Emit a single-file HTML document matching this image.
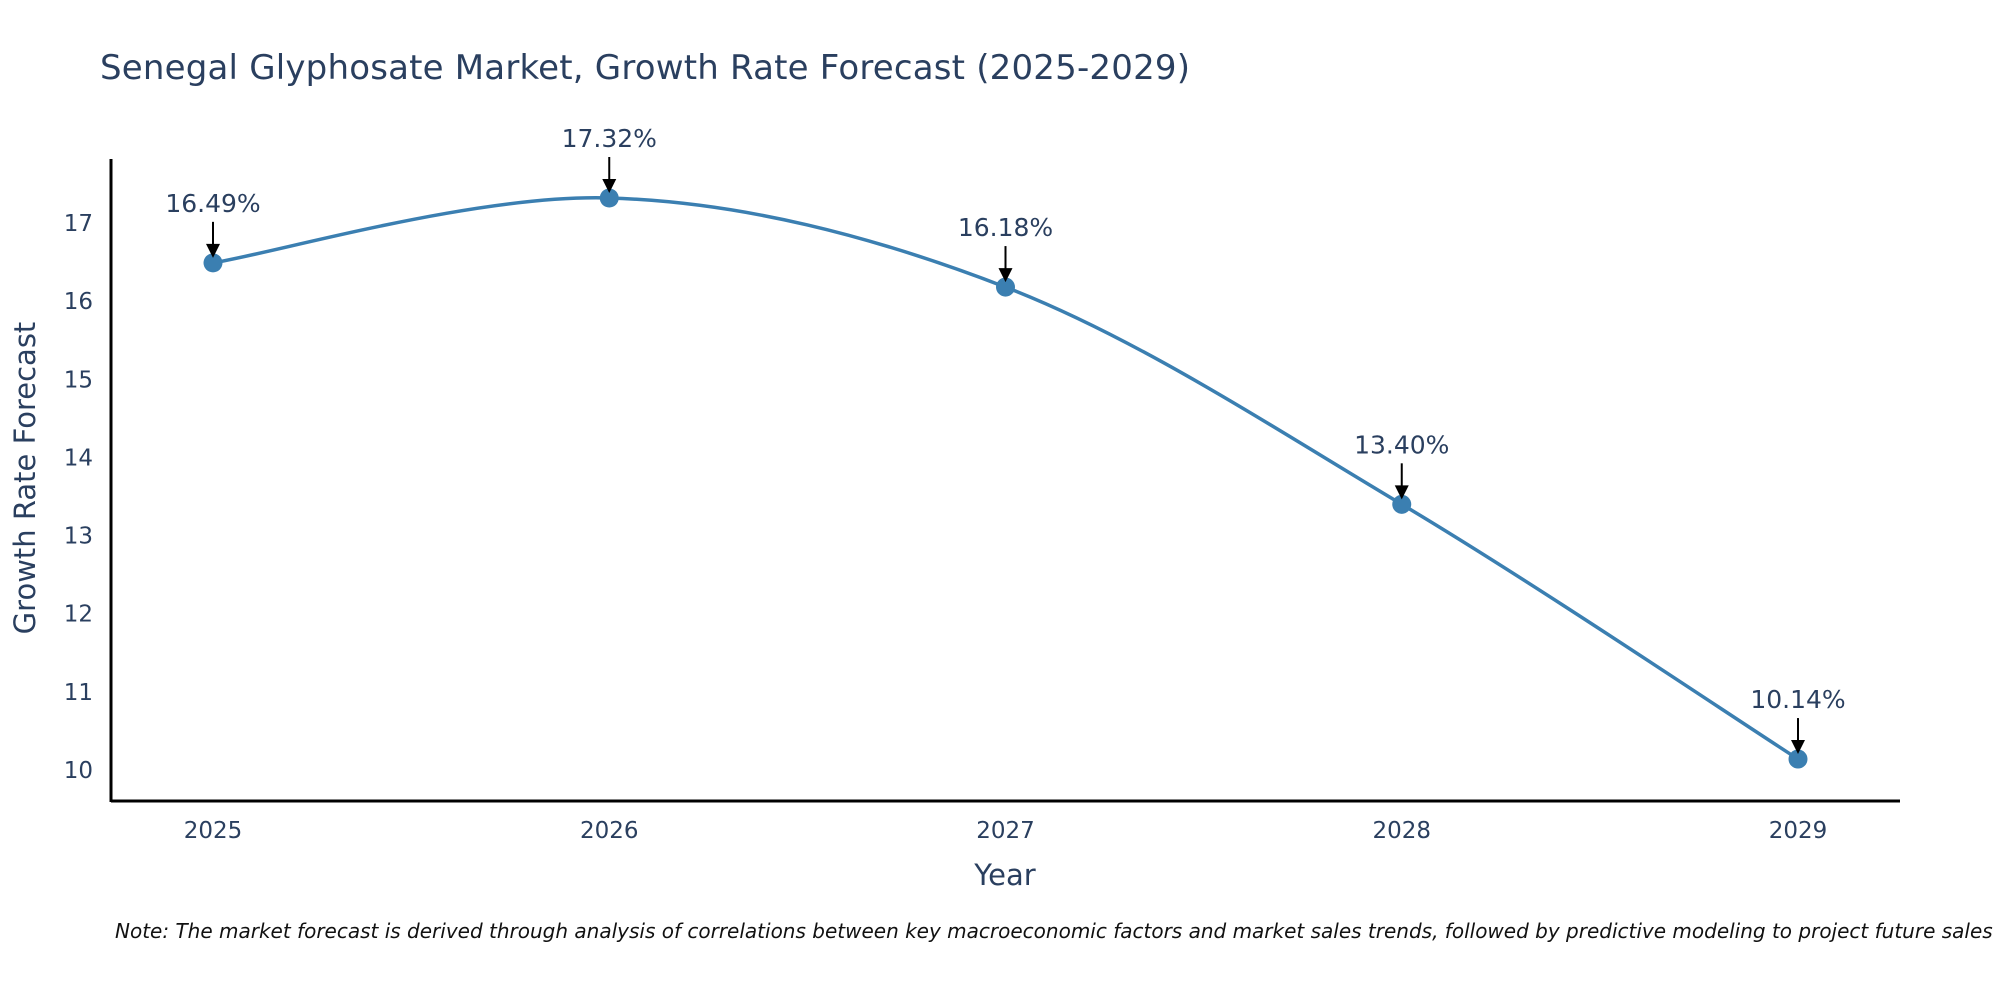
<!DOCTYPE html>
<html><head><meta charset="utf-8"><style>
html,body{margin:0;padding:0;background:#fff;}
svg{display:block;font-family:"DejaVu Sans","Liberation Sans",sans-serif;}
</style></head><body>
<svg id="chart" width="2000" height="1000" viewBox="0 0 2000 1000">
<text x="100" y="79" font-size="34" fill="#2a3f5f" textLength="1090">Senegal Glyphosate Market, Growth Rate Forecast (2025-2029)</text>
<g id="plot"></g>
<text x="1005" y="885" font-size="29" fill="#2a3f5f" text-anchor="middle">Year</text>
<text transform="translate(35,478) rotate(-90)" font-size="29" fill="#2a3f5f" text-anchor="middle">Growth Rate Forecast</text>
<text x="115" y="938" font-size="20" font-style="italic" fill="#111">Note: The market forecast is derived through analysis of correlations between key macroeconomic factors and market sales trends, followed by predictive modeling to project future sales</text>
</svg>
<script>
const years = ['2025','2026','2027','2028','2029'];
const values = [16.49, 17.32, 16.18, 13.40, 10.14];
const labels = ['16.49%','17.32%','16.18%','13.40%','10.14%'];
const yTicks = [10,11,12,13,14,15,16,17];

const NS='http://www.w3.org/2000/svg';
const g=document.getElementById('plot');
const x0=213, x1=1798;
const xs=i=>x0+(x1-x0)*i/(years.length-1);
const ys=v=>770-(v-10)*(770-223)/7;
function mk(t,a,p){const e=document.createElementNS(NS,t);for(const k in a)e.setAttribute(k,a[k]);(p||g).appendChild(e);return e;}

let ax=mk('line',{x1:111,y1:801,x2:1900,y2:801,stroke:'#000','stroke-width':3});


let ay=mk('line',{x1:111,y1:159,x2:111,y2:802,stroke:'#000','stroke-width':3});



yTicks.forEach(v=>{
  const t=mk('text',{x:93,y:ys(v)+8,'font-size':23,fill:'#2a3f5f','text-anchor':'end'});
  t.textContent=v;
  
  
});
years.forEach((yr,i)=>{
  const t=mk('text',{x:xs(i),y:838,'font-size':23,fill:'#2a3f5f','text-anchor':'middle'});
  t.textContent=yr;
  
  
});

const pts=values.map((v,i)=>[xs(i),ys(v)]);
let d='M'+pts[0][0]+','+pts[0][1];
for(let i=0;i<pts.length-1;i++){
  const p0=pts[Math.max(0,i-1)],p1=pts[i],p2=pts[i+1],p3=pts[Math.min(pts.length-1,i+2)];
  const s=1/6;
  d+=' C'+(p1[0]+(p2[0]-p0[0])*s)+','+(p1[1]+(p2[1]-p0[1])*s)+' '+(p2[0]-(p3[0]-p1[0])*s)+','+(p2[1]-(p3[1]-p1[1])*s)+' '+p2[0]+','+p2[1];
}
const line=mk('path',{d:d,fill:'none',stroke:'#3b7fb1','stroke-width':3.5});



pts.forEach((p,i)=>{
  const c=mk('circle',{cx:p[0],cy:p[1],r:9.5,fill:'#3b7fb1'});
  
  
  const l=mk('line',{x1:p[0],y1:p[1]-41,x2:p[0],y2:p[1]-18,stroke:'#000','stroke-width':2});
  
  
  const h=mk('polygon',{points:(p[0]-7)+','+(p[1]-19)+' '+(p[0]+7)+','+(p[1]-19)+' '+p[0]+','+(p[1]-5),fill:'#000'});
  
  
  const t=mk('text',{x:p[0],y:p[1]-51,'font-size':25,fill:'#2a3f5f','text-anchor':'middle'});
  t.textContent=labels[i];
  
  
});
</script>
</body></html>
